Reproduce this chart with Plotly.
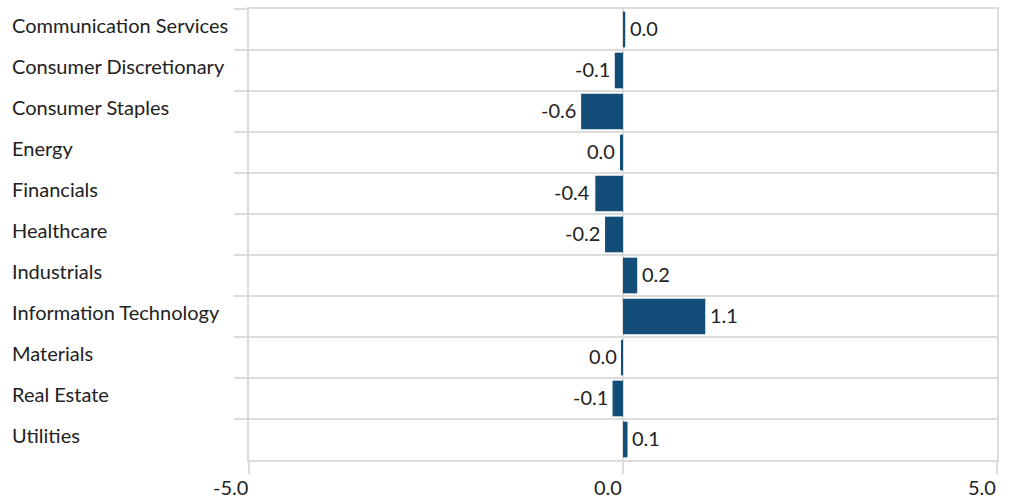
import plotly.graph_objects as go

categories = ["Communication Services", "Consumer Discretionary", "Consumer Staples",
              "Energy", "Financials", "Healthcare", "Industrials",
              "Information Technology", "Materials", "Real Estate", "Utilities"]
values = [0.03, -0.11, -0.56, -0.04, -0.37, -0.24, 0.19, 1.10, -0.02, -0.14, 0.06]
x_ticks = [-5, 0, 5]
x_tick_labels = ["-5.0", "0.0", "5.0"]

def fmt(v):
    s = f"{v:.1f}"
    return "0.0" if s == "-0.0" else s

FONT = "Lato, 'Open Sans', sans-serif"
TXT = "#222222"
GRID = "#dcdcdc"
FS = 20

fig = go.Figure(go.Bar(
    x=values, y=categories, orientation="h",
    marker=dict(color="#124e78", line=dict(width=0)),
    hoverinfo="skip",
))

annotations = []
for c in categories:
    annotations.append(dict(xref="paper", yref="y", x=0, y=c, xanchor="left", yanchor="middle",
                            xshift=-239, yshift=5, text=c, showarrow=False,
                            font=dict(family=FONT, size=FS, color=TXT)))
for c, v in zip(categories, values):
    pos = v >= 0
    annotations.append(dict(xref="x", yref="y", x=v, y=c,
                            xanchor="left" if pos else "right", yanchor="middle",
                            xshift=3 if pos else -3, yshift=2, text=fmt(v), showarrow=False,
                            font=dict(family=FONT, size=FS, color=TXT)))
for v, t in zip(x_ticks, x_tick_labels):
    annotations.append(dict(xref="x", yref="paper", x=v, y=0, xanchor="right", yanchor="top",
                            xshift=1, yshift=-13, text=t, showarrow=False,
                            font=dict(family=FONT, size=FS, color=TXT)))

fig.update_layout(
    width=1010, height=500,
    margin=dict(l=249, r=13, t=7, b=40),
    paper_bgcolor="white", plot_bgcolor="white",
    bargap=0.13, showlegend=False,
    font=dict(family=FONT, size=FS, color=TXT),
    annotations=annotations,
    xaxis=dict(range=[-5, 5], tickvals=x_ticks, showticklabels=False,
               showgrid=True, gridcolor=GRID, gridwidth=2, zeroline=False,
               ticks="outside", ticklen=12, tickwidth=2, tickcolor=GRID,
               showline=True, linecolor=GRID, linewidth=2, mirror=True),
    yaxis=dict(autorange="reversed", showticklabels=False, tickson="boundaries",
               showgrid=True, gridcolor=GRID, gridwidth=2,
               ticks="outside", ticklen=13, tickwidth=2, tickcolor=GRID,
               showline=True, linecolor=GRID, linewidth=2, mirror=True),
)

fig.write_html("out.html")
